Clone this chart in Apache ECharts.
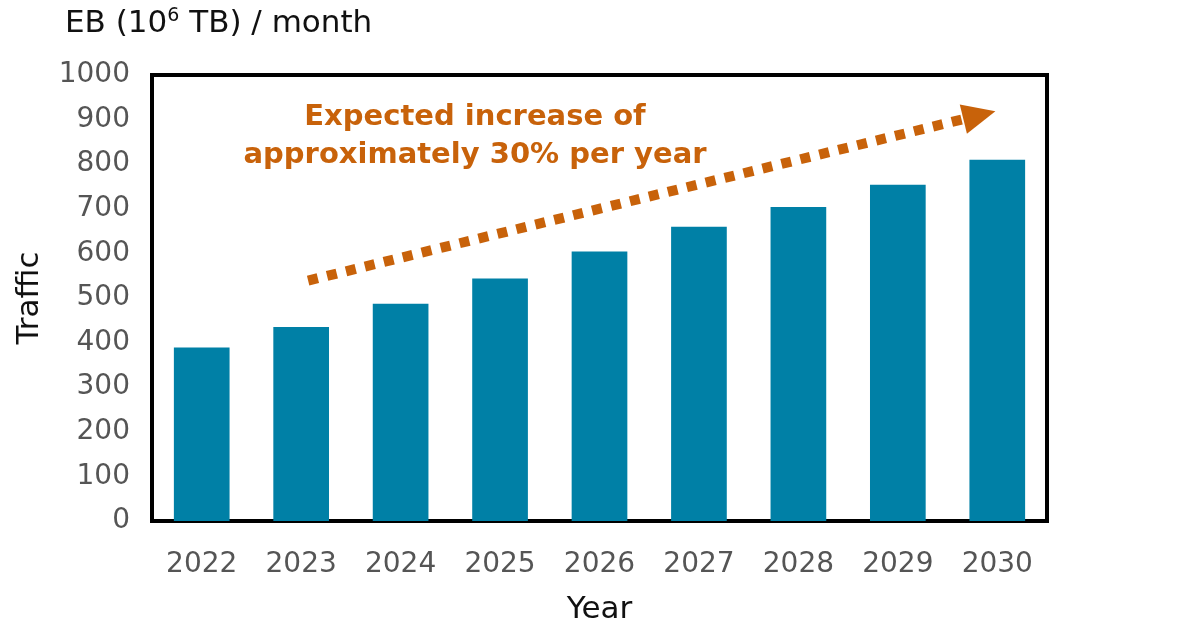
<!DOCTYPE html>
<html>
<head>
<meta charset="utf-8">
<script src="https://cdn.jsdelivr.net/npm/echarts@6/dist/echarts.min.js"></script>
<style>html,body{margin:0;padding:0;background:#fff;}#c{width:1200px;height:630px;}</style>
</head>
<body>
<div id="c"></div>
<script>
const years = ['2022','2023','2024','2025','2026','2027','2028','2029','2030'];
const traffic = [389, 435, 487, 544, 604, 660, 704, 754, 810];
const yTicks = {min: 0, max: 1000, interval: 100};
const arrowStart = [1.07, 539];
const arrowEnd = [7.82, 910];
const noteLines = ['Expected increase of', 'approximately 30% per year'];

const FONT = 'DejaVu Sans';
const chart = echarts.init(document.getElementById('c'), null, {renderer: 'canvas'});
chart.setOption({
  animation: false,
  backgroundColor: '#fff',
  grid: {left: 152, right: 153, top: 75, bottom: 109, show: true, borderColor: '#000', borderWidth: 4,
         containLabel: false, outerBoundsMode: 'none'},
  xAxis: [{
    type: 'category', data: years,
    axisLine: {show: true, lineStyle: {color: '#000', width: 4}},
    axisTick: {show: false},
    axisLabel: {color: '#555', fontFamily: FONT, fontSize: 28, margin: 30},
    name: 'Year', nameLocation: 'middle', nameGap: 73,
    nameTextStyle: {color: '#111', fontFamily: FONT, fontSize: 31}
  }, {
    type: 'value', min: -0.5, max: 8.5, show: false
  }],
  yAxis: {
    type: 'value', min: yTicks.min, max: yTicks.max, interval: yTicks.interval,
    axisLine: {show: true, onZero: false, lineStyle: {color: '#000', width: 4}},
    axisTick: {show: false},
    splitLine: {show: false},
    axisLabel: {color: '#555', fontFamily: FONT, fontSize: 28, margin: 22, formatter: v => String(v)},
    name: 'Traffic', nameLocation: 'middle', nameGap: 107, nameRotate: 90,
    nameTextStyle: {color: '#111', fontFamily: FONT, fontSize: 31}
  },
  graphic: [{
    type: 'text', x: 65, y: 7,
    style: {
      text: '{a|EB (10}{s|6}{a| TB) / month}',
      rich: {
        a: {fontFamily: FONT, fontSize: 31, fill: '#111', verticalAlign: 'bottom'},
        s: {fontFamily: FONT, fontSize: 19, fill: '#111', padding: [0, 0, 13, 0], verticalAlign: 'bottom'}
      }
    }
  }, {
    type: 'text', x: 475, y: 98,
    style: {
      text: noteLines.join('\n'),
      align: 'center',
      fontFamily: FONT, fontWeight: 'bold', fontSize: 29, lineHeight: 38, fill: '#C8620A'
    }
  }],
  series: [{
    type: 'bar', data: traffic, barCategoryGap: '44%',
    itemStyle: {color: '#0080A6'}
  }, {
    type: 'line', xAxisIndex: 1, data: [arrowStart, arrowEnd],
    symbol: 'none', lineStyle: {opacity: 0}, silent: true,
    markLine: {
      silent: true, symbol: ['none', 'triangle'], symbolSize: [30, 33],
      label: {show: false},
      lineStyle: {color: '#C8620A', width: 10, type: [10, 9.5], cap: 'butt', opacity: 1},
      data: [[{coord: arrowStart}, {coord: arrowEnd}]]
    }
  }]
});
</script>
</body>
</html>
